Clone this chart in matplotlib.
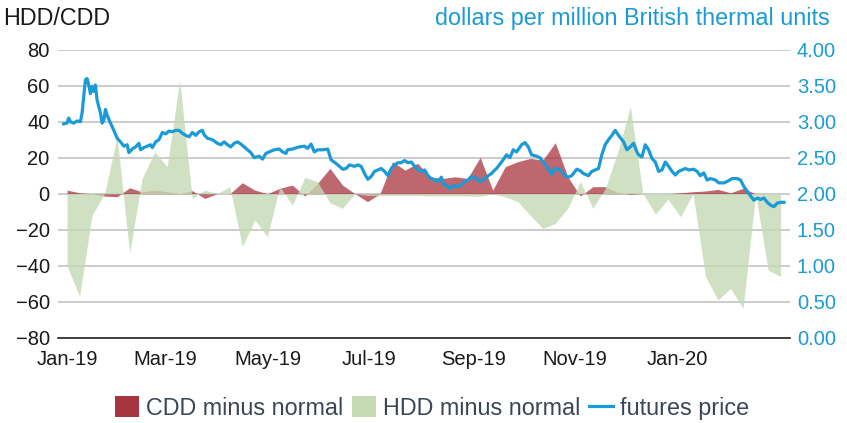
import matplotlib
matplotlib.use("Agg")
import matplotlib.pyplot as plt
import matplotlib.dates as mdates
from matplotlib.patches import Patch
from matplotlib.lines import Line2D
import pandas as pd

plt.rcParams['font.family'] = ['Liberation Sans', 'DejaVu Sans']

# weekly degree-day departures from normal (Jan 2019 - early Mar 2020)
cdd_minus_normal = [2, 0.5, 0, -1.3, -1.7, 3.3, 1, 2, 1, 0, 1.7, -2.6, 0, 0,
                    6.1, 2, 0, 3, 4.8, -1.3, 5.7, 14.1, 4.8, 0, -4.4, 0, 17.8,
                    13.1, 16.9, 9.4, 8.5, 9.4, 8.5, 20.2, 2, 15, 17.8, 19.6,
                    18.7, 28.3, 9.4, -1.3, 3.9, 3.9, 0.5, -0.5, 0, 0, 0, 0.5,
                    1.1, 1.5, 2.4, 0.5, 3, 0, 0, 0]
hdd_minus_normal = [-40, -57, -12, 0, 31.7, -33, 8.5, 23.3, 15, 63, -2.6, 2,
                    0, 3.9, -29.4, -14.6, -23.9, 3.9, -6.3, 9.1, 6.7, -5, -8.1,
                    0, -1, -1, -1, -1, -1, -1.3, -1.3, -1.3, -1.3, -1.5, 0,
                    -1.7, -4.4, -11.9, -19.3, -16.5, -8.1, 6.7, -8.1, 3, 23.3,
                    48.3, 0, -11.3, -3, -12.8, 0, -46, -59, -52.6, -63.7, 0,
                    -42.4, -46]
week_dates = pd.date_range('2019-01-01', '2020-03-03', periods=len(hdd_minus_normal))

# futures price, days since 2019-01-01 and $/MMBtu
price_days = [-2, 0, 1, 2, 4, 6, 8, 9, 11, 12, 13, 14, 15, 16, 17, 18, 20, 21,
              22, 23, 24, 26, 28, 30, 32, 34, 36, 37, 39, 41, 43, 44, 46, 48,
              50, 51, 53, 55, 57, 59, 61, 63, 65, 67, 69, 71, 73, 75, 77, 79,
              81, 82, 84, 87, 90, 92, 94, 96, 98, 100, 102, 104, 107, 110, 112,
              115, 117, 119, 121, 124, 127, 129, 131, 132, 135, 136, 139, 142,
              144, 146, 148, 150, 153, 156, 158, 161, 163, 165, 167, 169, 172,
              174, 176, 178, 180, 182, 184, 186, 188, 190, 192, 194, 196, 198,
              200, 202, 204, 206, 208, 210, 212, 214, 216, 218, 220, 222, 224,
              225, 227, 229, 231, 234, 236, 238, 240, 242, 245, 247, 249, 252,
              254, 256, 257, 260, 263, 265, 267, 269, 272, 274, 276, 278, 281,
              283, 285, 288, 290, 292, 294, 296, 298, 300, 302, 305, 307, 309,
              312, 314, 316, 318, 320, 322, 324, 326, 328, 330, 333, 335, 337,
              339, 341, 342, 344, 346, 348, 350, 352, 354, 356, 358, 360, 362,
              364, 366, 368, 370, 372, 375, 377, 379, 381, 383, 385, 388, 390,
              393, 395, 398, 401, 403, 405, 408, 411, 413, 415, 417, 419, 421,
              423, 425, 427, 429]
price_vals = [2.97, 2.98, 3.05, 3.00, 2.98, 3.01, 3.00, 3.12, 3.58, 3.60, 3.51,
              3.39, 3.49, 3.42, 3.51, 3.30, 3.12, 2.98, 3.02, 3.17, 3.09, 2.98,
              2.88, 2.77, 2.72, 2.66, 2.68, 2.57, 2.62, 2.65, 2.70, 2.61, 2.64,
              2.66, 2.68, 2.64, 2.72, 2.75, 2.85, 2.83, 2.87, 2.86, 2.88, 2.88,
              2.84, 2.81, 2.79, 2.85, 2.81, 2.86, 2.88, 2.82, 2.77, 2.75, 2.70,
              2.68, 2.72, 2.68, 2.65, 2.70, 2.72, 2.69, 2.63, 2.57, 2.50, 2.52,
              2.48, 2.56, 2.58, 2.61, 2.62, 2.58, 2.56, 2.61, 2.62, 2.63, 2.65,
              2.66, 2.63, 2.69, 2.58, 2.61, 2.61, 2.62, 2.47, 2.42, 2.38, 2.34,
              2.35, 2.40, 2.38, 2.40, 2.38, 2.28, 2.20, 2.24, 2.31, 2.33, 2.35,
              2.31, 2.25, 2.35, 2.40, 2.43, 2.43, 2.46, 2.43, 2.44, 2.38, 2.33,
              2.31, 2.33, 2.25, 2.21, 2.19, 2.17, 2.23, 2.14, 2.12, 2.07, 2.11,
              2.10, 2.12, 2.17, 2.19, 2.24, 2.21, 2.17, 2.19, 2.25, 2.28, 2.33,
              2.35, 2.44, 2.54, 2.50, 2.61, 2.58, 2.68, 2.71, 2.65, 2.54, 2.52,
              2.50, 2.44, 2.35, 2.27, 2.35, 2.34, 2.31, 2.25, 2.23, 2.25, 2.34,
              2.32, 2.28, 2.25, 2.31, 2.33, 2.35, 2.54, 2.68, 2.75, 2.81, 2.88,
              2.81, 2.72, 2.61, 2.65, 2.70, 2.58, 2.54, 2.51, 2.68, 2.61, 2.49,
              2.44, 2.31, 2.33, 2.44, 2.38, 2.31, 2.26, 2.31, 2.33, 2.35, 2.33,
              2.34, 2.31, 2.25, 2.29, 2.19, 2.21, 2.19, 2.15, 2.15, 2.17, 2.21,
              2.21, 2.19, 2.10, 2.00, 1.91, 1.94, 1.92, 1.94, 1.88, 1.84, 1.82,
              1.87, 1.88, 1.88]
start = pd.Timestamp('2019-01-01')
price_dates = start + pd.to_timedelta(price_days, unit='D')

month_ticks = pd.date_range('2019-01-01', '2020-01-01', freq='2MS')

red = '#a8343f'
green = '#c4dab3'
blue = '#1a9ad6'
fs = 14.5
fs_big = 16.8

fig = plt.figure(figsize=(8.47, 4.23), dpi=100)
ax = fig.add_axes([58 / 847, 1 - 337.7 / 423, (790 - 58) / 847, 288 / 423])
ax2 = ax.twinx()

ax.fill_between(week_dates, 0, cdd_minus_normal, color=red, alpha=0.75, lw=0)
ax.fill_between(week_dates, 0, hdd_minus_normal, color=green, alpha=0.8, lw=0)
ax2.plot(price_dates, price_vals, color=blue, lw=2.3)

ax.set_ylim(-80, 80)
ax.set_yticks(range(-80, 81, 20))
ax2.set_ylim(0, 4)
ax2.set_yticks([i * 0.5 for i in range(9)])
ax2.set_yticklabels([f'{i * 0.5:.2f}' for i in range(9)])
ax.set_xlim(start - pd.Timedelta(days=5.4), start + pd.Timedelta(days=432.6))

ax.set_xticks(month_ticks)
ax.xaxis.set_major_formatter(mdates.DateFormatter('%b-%y'))

ax.grid(axis='y', color='#c8c8c8', lw=1.3)
ax.set_axisbelow(True)
for a in (ax, ax2):
    for s in ('top', 'left', 'right', 'bottom'):
        a.spines[s].set_visible(False)
ax.axhline(-80, color='#222222', lw=1.2, clip_on=False, zorder=5)

ax.tick_params(axis='y', length=0, pad=6, labelsize=fs, labelcolor='#1a1a1a')
ax.tick_params(axis='x', length=0, pad=9, labelsize=fs, labelcolor='#1a1a1a')
ax2.tick_params(axis='y', length=0, pad=5, labelsize=fs, labelcolor=blue)

fig.text(0.004, 0.957, 'HDD/CDD', fontsize=fs_big, color='#1a1a1a', va='center')
fig.text(0.98, 0.957, 'dollars per million British thermal units', fontsize=fs_big,
         color=blue, va='center', ha='right')

handles = [Patch(facecolor=red, edgecolor='none'),
           Patch(facecolor=green, edgecolor='none'),
           Line2D([], [], color=blue, lw=2.3)]
labels = ['CDD minus normal', 'HDD minus normal', 'futures price']
fig.legend(handles, labels, loc='center', bbox_to_anchor=(0.51, 0.035), ncol=3,
           frameon=False, fontsize=fs_big, handlelength=1.0, handleheight=1.0,
           handletextpad=0.3, columnspacing=0.4, labelcolor='#3a4656')

fig.savefig('out.png', dpi=100)
